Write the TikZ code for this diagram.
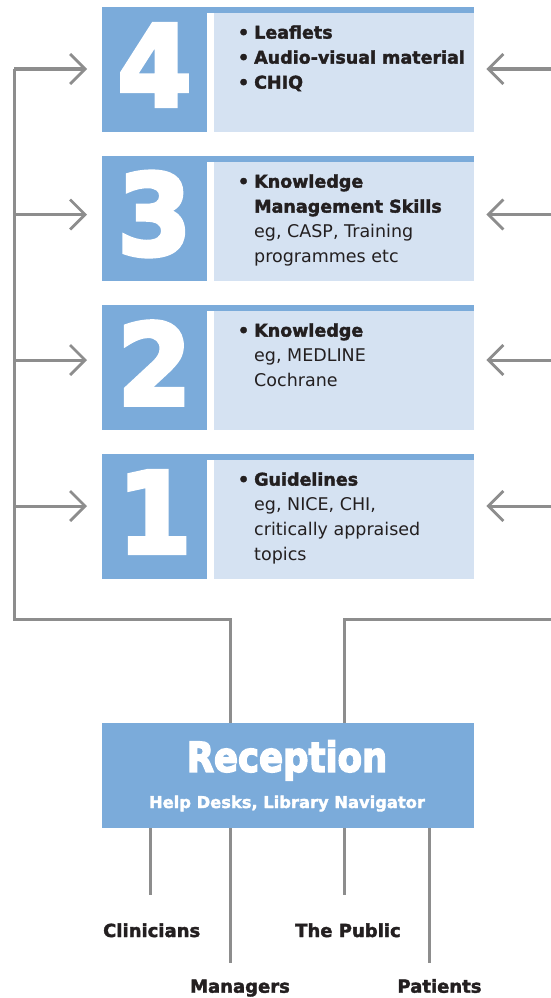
\documentclass[tikz,border=0pt]{standalone}
\usepackage{fontspec}
\usepackage{graphicx}
\setmainfont{DejaVu Sans}[BoldFeatures={FakeBold=2}]
\newfontfamily\heavyfont{DejaVu Sans}[BoldFeatures={FakeBold=4}]
\usetikzlibrary{arrows.meta}
\definecolor{boxblue}{HTML}{7BABDA}
\definecolor{lightblue}{HTML}{D5E2F2}
\definecolor{linegray}{HTML}{8D8D8D}
\definecolor{ink}{HTML}{231F20}
\tikzset{
  line/.style={draw=linegray, line width=3pt, line join=miter},
  conn/.style={line, -{Straight Barb[length=15pt,width=30pt,line width=2.8pt]}},
  bluebox/.style={fill=boxblue, inner sep=0, anchor=north west, minimum width=372, minimum height=125},
  lightbox/.style={fill=lightblue, inner sep=0, anchor=north west, minimum width=260.4, minimum height=119.3},
  digit/.style={inner sep=0, text=white, font=\fontsize{112}{112}\selectfont\heavyfont\bfseries},
  itemtext/.style={inner sep=0, anchor=base west, text=ink, font=\fontsize{17.5}{25}\selectfont},
  label/.style={inner sep=0, anchor=base, text=ink, font=\fontsize{18}{20}\selectfont\bfseries},
}
\newcommand\bul{\leavevmode\llap{\textbf{•}\hspace{5pt}}}
\newcommand\itemlines[1]{\vtop{\hsize=250pt\raggedright\parindent=0pt\noindent #1\par}}
\newcommand\infobox[4]{%
  \node[bluebox] (box#1) at (102,#2) {};
  \fill[white] (207,#2+5.7) rectangle (213.6,#2+125);
  \node[lightbox] (txt#1) at (213.6,#2+5.7) {};
  \node[digit] (d#1) at (154.5,#2+58) {\scalebox{0.95}[1]{#1}};
  \node[itemtext] (t#1) at (254,#2+31.6) {\itemlines{#4}};
  \coordinate (L#1) at (14,#3);
  \coordinate (R#1) at (551,#3);
  \draw[conn, shorten >=15pt] (L#1) -- (L#1 -| box#1.west);
  \draw[conn, shorten >=12pt] (R#1) -- (R#1 -| box#1.east);
}
\begin{document}
\begin{tikzpicture}[x=1pt,y=-1pt]
\useasboundingbox (0,0) rectangle (551,998);
\infobox{4}{7}{69}{\bul\textbf{Leaflets}\\\bul\textbf{Audio-visual material}\\\bul\textbf{CHIQ}}
\infobox{3}{156}{214.5}{\bul\textbf{Knowledge}\\\textbf{Management Skills}\\eg, CASP, Training\\programmes etc}
\infobox{2}{305}{360}{\bul\textbf{Knowledge}\\eg, MEDLINE\\Cochrane}
\infobox{1}{454}{506}{\bul\textbf{Guidelines}\\eg, NICE, CHI,\\critically appraised\\topics}
% reception
\node[fill=boxblue, inner sep=0, anchor=north west, minimum width=372, minimum height=105] (rec) at (102,723) {};
\node[inner sep=0, anchor=base, text=white, font=\fontsize{41}{41}\selectfont\heavyfont\bfseries] (rectitle) at (287,771.7) {\scalebox{0.865}[1]{Reception}};
\node[inner sep=0, anchor=base, text=white, font=\fontsize{16.3}{18}\selectfont\bfseries] (recsub) at (287,808) {Help Desks, Library Navigator};
% feedback loops
\coordinate (lc) at (14,619);
\coordinate (ml) at (230,619);
\coordinate (rc) at (551,619);
\coordinate (mr) at (344,619);
\draw[line] (L4) -- (lc) -- (ml) -- (ml |- rec.north);
\draw[line] (rc) -- (mr) -- (mr |- rec.north);
% audience
\node[label] (clin) at (151.7,937) {Clinicians};
\node[label] (mgr) at (240,992.7) {Managers};
\node[label] (pub) at (348,937) {The Public};
\node[label] (pat) at (439.5,992.7) {Patients};
\coordinate (e1) at (150,895);
\coordinate (e2) at (230,963);
\coordinate (e3) at (344,895);
\coordinate (e4) at (429,963);
\draw[line] (rec.south -| e1) -- (e1);
\draw[line] (rec.south -| e2) -- (e2);
\draw[line] (rec.south -| e3) -- (e3);
\draw[line] (rec.south -| e4) -- (e4);
\end{tikzpicture}
\end{document}
